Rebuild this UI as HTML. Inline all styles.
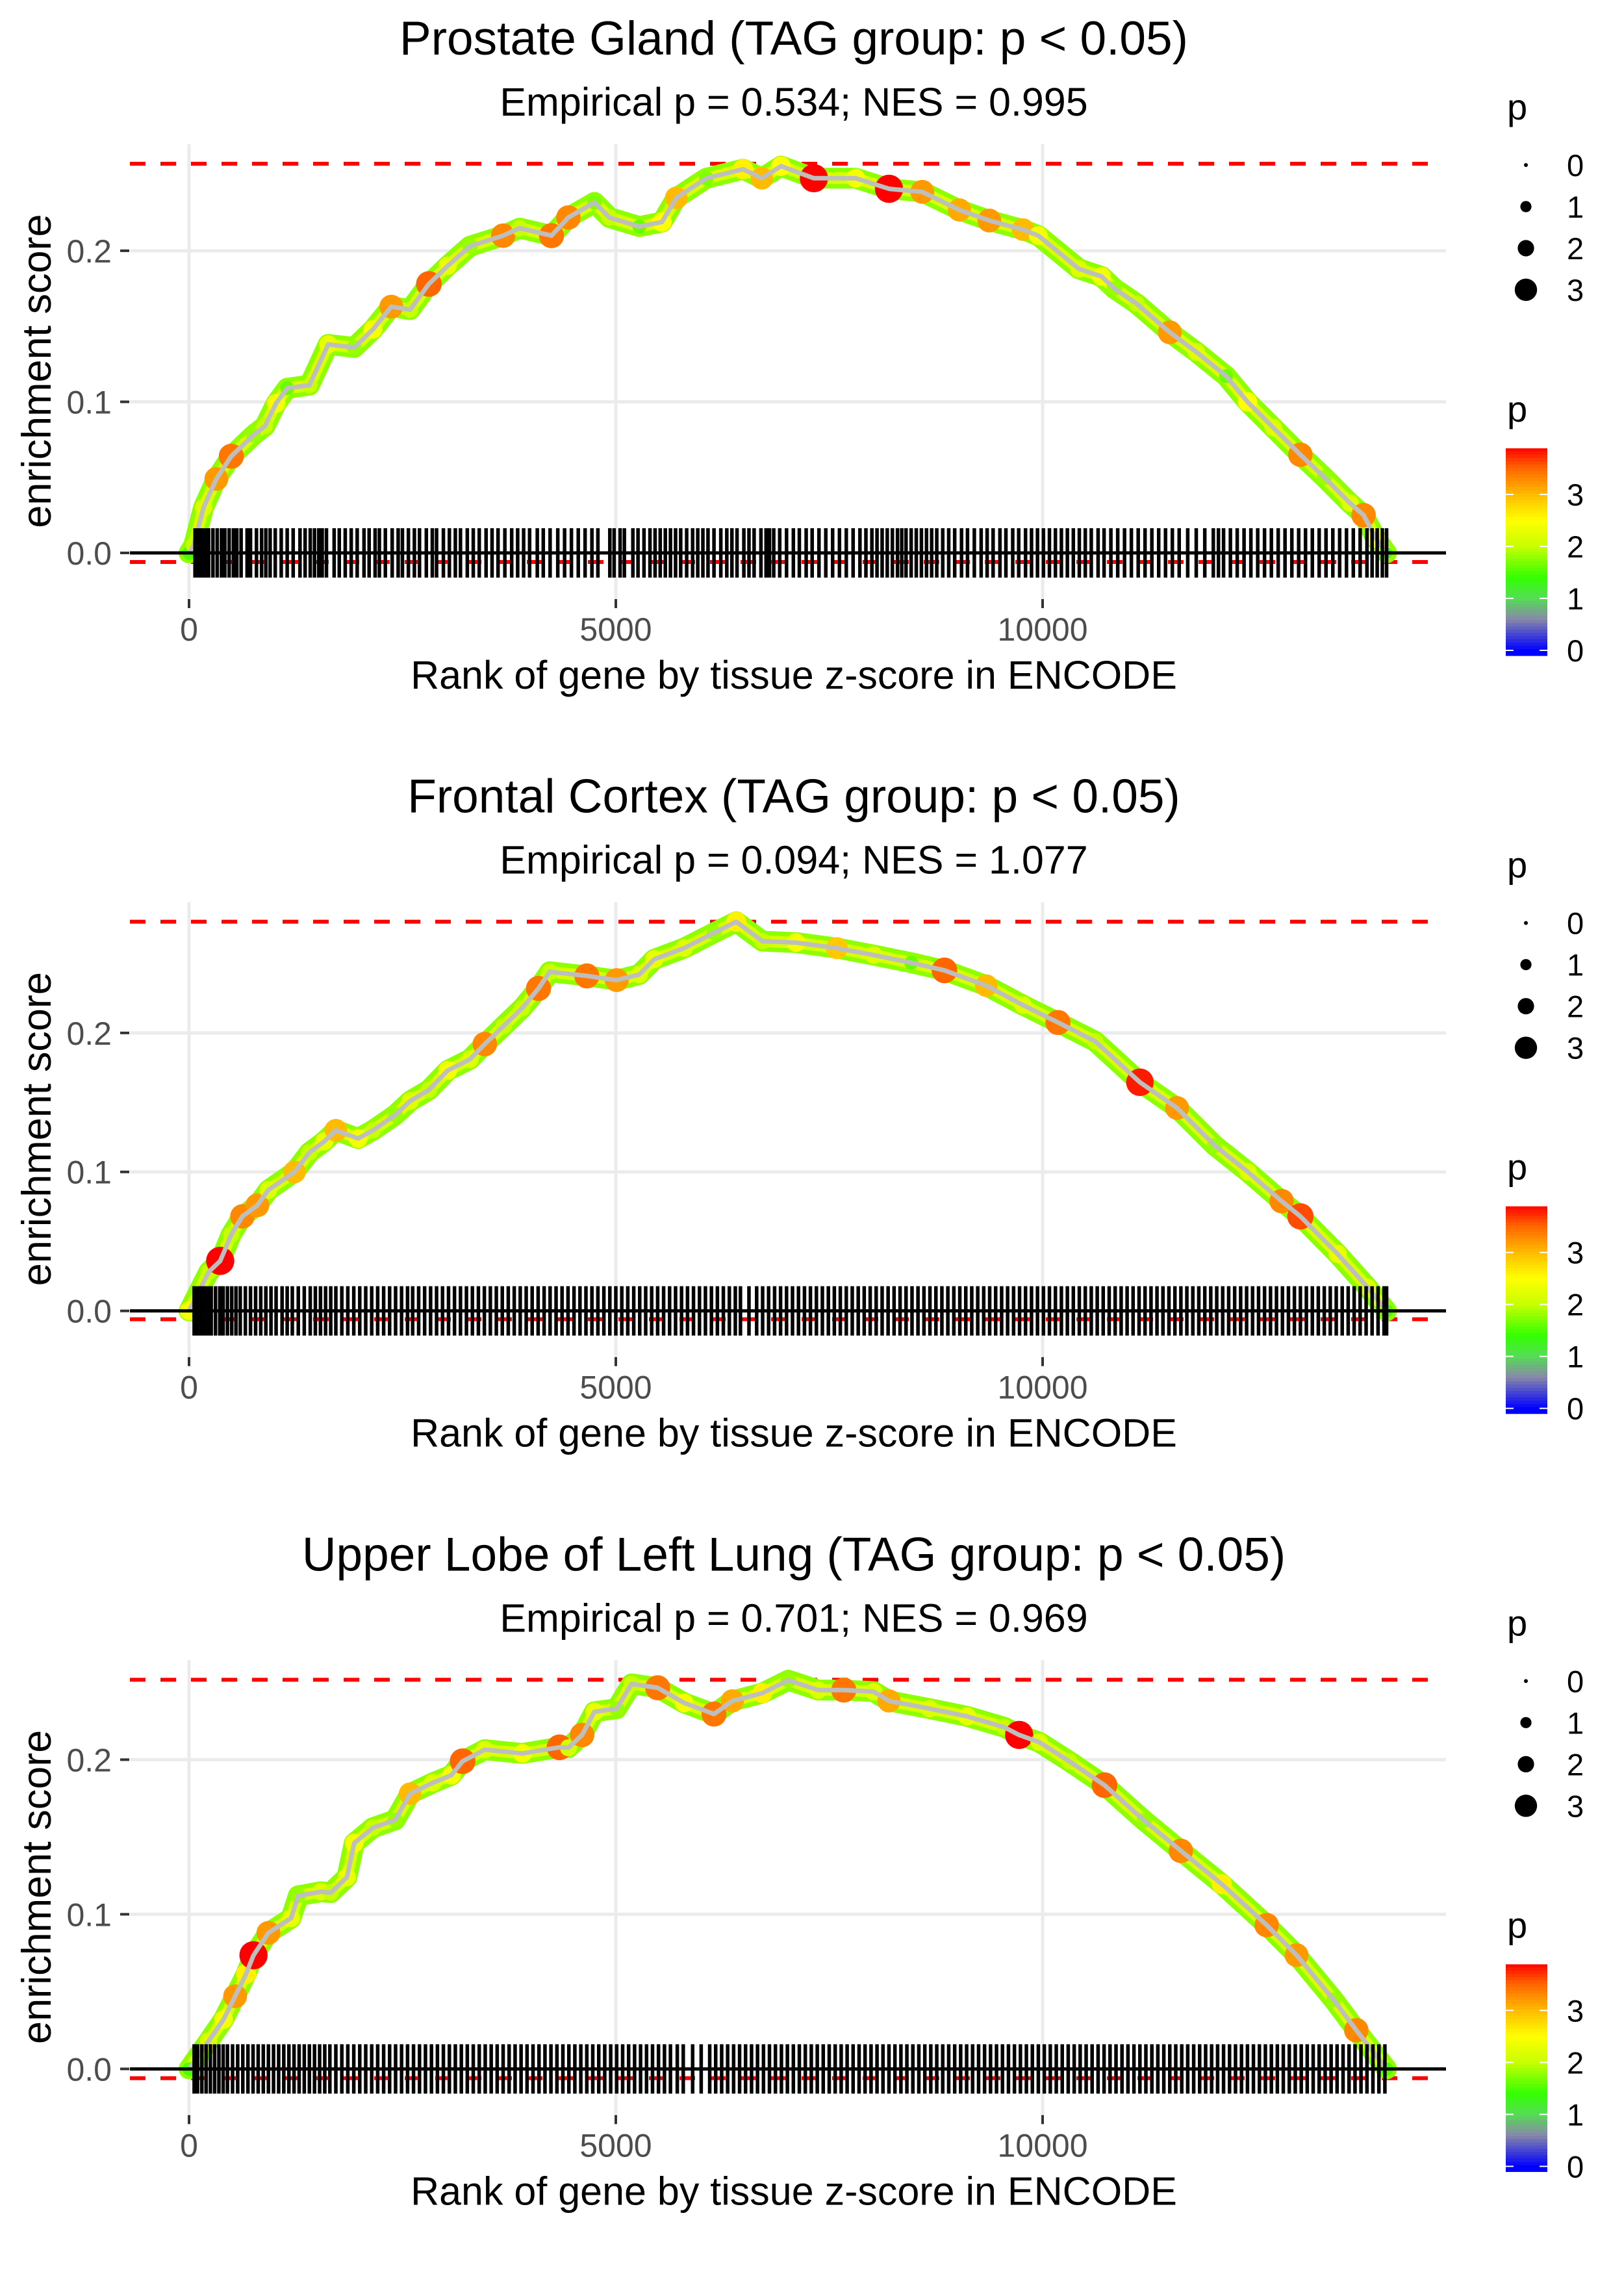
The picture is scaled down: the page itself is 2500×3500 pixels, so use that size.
<!DOCTYPE html>
<html><head><meta charset="utf-8"><style>
html,body{margin:0;padding:0;background:#fff;}
svg{display:block;font-family:"Liberation Sans",sans-serif;}
</style></head><body>
<svg id="chart" width="2500" height="3500" viewBox="0 0 2500 3500" xmlns="http://www.w3.org/2000/svg">
<rect x="0" y="0" width="2500" height="3500" fill="#fff"/>
</svg>
<script>
// ---- data ----
const titles = ["Prostate Gland (TAG group: p < 0.05)", "Frontal Cortex (TAG group: p < 0.05)", "Upper Lobe of Left Lung (TAG group: p < 0.05)"];
const subtitles = ["Empirical p = 0.534; NES = 0.995", "Empirical p = 0.094; NES = 1.077", "Empirical p = 0.701; NES = 0.969"];
const xTicks = [0, 5000, 10000];
const xTickLabels = ["0", "5000", "10000"];
const yTicks = [0.0, 0.1, 0.2];
const yTickLabels = ["0.0", "0.1", "0.2"];
const maxES = [0.2576, 0.280, 0.2517];
const minES = [-0.006, -0.006, -0.006];
const sizeLegendValues = [0, 1, 2, 3];
const colorLegendValues = [0, 1, 2, 3];

const p1Ranks = [0,55,170,320,495,755,890,1020,1150,1410,1630,1935,2155,2370,2590,2810,3030,3290,3680,3874,4246,4444,4750,4925,5275,5540,5708,6060,6490,6710,6935,7320,7810,8200,8590,9025,9375,9770,9950,10425,10690,10840,11100,11490,11800,12150,12400,12700,13020,13300,13600,13760,13900,14030];
const p1ES = [0,0.005,0.03,0.049,0.064,0.078,0.084,0.099,0.109,0.111,0.138,0.136,0.148,0.163,0.161,0.178,0.19,0.203,0.21,0.215,0.21,0.222,0.232,0.222,0.216,0.219,0.235,0.248,0.254,0.248,0.256,0.248,0.248,0.241,0.239,0.227,0.22,0.214,0.21,0.188,0.183,0.175,0.165,0.146,0.133,0.117,0.1,0.083,0.065,0.05,0.033,0.025,0.01,0];
const p1P = [1.5,2,2.2,3.2,3.4,1.8,2,2.4,1.6,2,2.3,1.8,2.4,3.2,2,3.5,2.3,1.8,3.3,2,3.4,3.3,1.7,2,1.6,2.5,3,1.7,2.6,3,2.5,3.9,2.4,3.9,3.2,3.1,3.2,3.0,2.4,2.2,2.4,1.8,2,3.2,2.2,1.6,2.5,2.2,3.3,1.8,2.2,3.3,2.5,1.2];

const p2Ranks = [0,230,365,495,625,800,930,1235,1410,1585,1720,1980,2155,2415,2590,2810,3030,3290,3465,3685,3905,4094,4225,4660,5010,5275,5450,5800,6150,6410,6715,7110,7590,8020,8460,8850,9340,9770,10180,10615,11140,11575,12015,12405,12800,13020,13455,13805,14030];
const p2ES = [0,0.028,0.036,0.055,0.068,0.076,0.087,0.1,0.114,0.122,0.13,0.124,0.13,0.141,0.151,0.159,0.173,0.181,0.192,0.205,0.218,0.232,0.244,0.241,0.238,0.242,0.253,0.261,0.272,0.28,0.266,0.265,0.261,0.256,0.2505,0.245,0.234,0.22,0.2075,0.194,0.1645,0.146,0.119,0.1,0.079,0.068,0.041,0.017,0];
const p2P = [2.4,2,3.9,2,3.3,3.2,2.2,3,2,2.3,3,2.4,2,1.8,2.2,2,2.4,2.2,3.3,2,2,3.4,2,3.4,3.2,2.2,2.3,2.2,1.8,2.6,2,2.4,2.9,2.2,1.6,3.5,3,2.2,3.4,2,3.8,3.2,1.8,2.2,3.3,3.6,2.3,2.2,1.5];

const p3Ranks = [0,230,405,540,670,755,930,1195,1280,1545,1660,1850,1935,2155,2415,2590,2855,3075,3205,3465,3905,4340,4444,4605,4750,5010,5185,5490,5800,6150,6365,6715,7020,7370,7670,8020,8200,8675,9115,9550,9725,9960,10310,10725,11190,11620,12100,12625,12975,13410,13675,14030];
const p3ES = [0,0.018,0.032,0.047,0.0615,0.0735,0.088,0.0975,0.112,0.1146,0.114,0.124,0.146,0.156,0.161,0.178,0.185,0.19,0.199,0.2065,0.204,0.208,0.2077,0.216,0.231,0.233,0.249,0.2465,0.2367,0.2295,0.238,0.243,0.2514,0.245,0.245,0.244,0.238,0.233,0.228,0.221,0.216,0.2113,0.199,0.1835,0.1606,0.141,0.1195,0.093,0.0736,0.0446,0.025,0];
const p3P = [1.5,2.2,2.4,3.2,2.6,3.9,3.2,2.3,1.8,2.2,2,2.3,2.4,2,1.8,3,2.2,2.4,3.5,2.2,2.4,3.5,2.1,3.3,2.3,1.8,2,3.4,2.4,3.4,3.1,2.6,1.8,2.2,3.4,2.2,3.1,2.2,2.3,2,3.9,2.2,2,3.5,1.8,3.3,2.6,3.3,3.2,1.8,3.3,1.5];

const p1Rug = [70,110,150,190,230,280,330,380,420,470,520,560,610,680,720,790,850,900,950,1010,1080,1150,1220,1300,1360,1420,1470,1520,1560,1610,1700,1760,1830,1900,1970,2050,2110,2180,2230,2300,2380,2450,2500,2570,2640,2700,2780,2850,2900,2980,3050,3120,3180,3260,3330,3400,3480,3550,3620,3700,3780,3850,3920,3990,4080,4150,4230,4320,4400,4480,4560,4640,4720,4790,4930,4980,5050,5100,5200,5260,5330,5400,5460,5520,5580,5640,5700,5760,5830,5900,5960,6020,6080,6150,6230,6300,6360,6420,6500,6560,6620,6700,6760,6800,6850,6920,7000,7080,7150,7230,7300,7380,7460,7540,7620,7700,7780,7860,7930,8000,8060,8120,8180,8240,8300,8350,8400,8460,8520,8580,8640,8700,8760,8830,8900,8970,9050,9120,9200,9280,9350,9420,9500,9570,9650,9720,9800,9870,9940,10010,10080,10150,10220,10290,10360,10430,10500,10570,10650,10720,10800,10880,10960,11040,11120,11200,11280,11360,11440,11520,11600,11700,11800,11900,12000,12060,12120,12200,12280,12360,12440,12520,12600,12680,12760,12840,12920,13000,13080,13160,13240,13320,13400,13480,13560,13640,13720,13800,13860,13920,13980,14030];
const p2Rug = [60,100,140,180,220,260,310,360,400,450,500,550,600,660,720,780,840,900,960,1020,1090,1150,1210,1280,1350,1420,1480,1540,1600,1660,1720,1790,1860,1930,2000,2070,2140,2210,2280,2350,2420,2490,2560,2620,2690,2760,2830,2900,2970,3040,3110,3180,3250,3320,3390,3460,3530,3600,3670,3740,3810,3880,3950,4020,4090,4160,4230,4300,4370,4440,4510,4580,4650,4720,4790,4860,4930,5000,5070,5140,5210,5280,5350,5420,5490,5560,5630,5700,5770,5840,5910,5980,6050,6120,6190,6260,6330,6400,6460,6560,6650,6720,6790,6860,6930,7000,7070,7140,7210,7280,7350,7420,7490,7560,7630,7700,7770,7840,7910,7980,8050,8120,8190,8260,8330,8400,8470,8540,8610,8680,8750,8820,8890,8960,9030,9100,9170,9240,9310,9380,9450,9520,9590,9660,9730,9800,9870,9940,10010,10080,10150,10220,10290,10360,10430,10500,10570,10640,10710,10780,10850,10920,10990,11060,11130,11200,11270,11340,11410,11480,11550,11620,11690,11760,11830,11900,11970,12040,12110,12180,12250,12320,12390,12460,12530,12600,12670,12740,12810,12880,12950,13020,13090,13160,13230,13300,13370,13440,13510,13580,13650,13720,13790,13860,13930,14000,14030];
const p3Rug = [60,100,150,200,250,300,350,400,450,510,570,630,690,750,810,870,930,990,1050,1110,1170,1230,1290,1350,1410,1470,1530,1590,1650,1720,1790,1860,1930,2000,2070,2140,2210,2280,2350,2420,2490,2560,2630,2700,2770,2840,2910,2980,3050,3120,3190,3260,3330,3400,3470,3540,3610,3680,3750,3820,3890,3960,4030,4100,4170,4240,4310,4380,4450,4520,4590,4660,4730,4800,4870,4940,5010,5080,5150,5220,5290,5360,5430,5500,5570,5640,5720,5790,5900,6000,6100,6170,6240,6310,6380,6450,6520,6590,6660,6730,6800,6870,6940,7010,7080,7150,7220,7290,7360,7430,7500,7570,7640,7710,7780,7850,7920,7990,8060,8130,8200,8270,8340,8410,8480,8550,8620,8690,8760,8830,8900,8970,9040,9110,9180,9250,9320,9390,9460,9530,9600,9670,9740,9810,9880,9950,10020,10090,10160,10230,10300,10370,10440,10510,10580,10650,10720,10790,10860,10930,11000,11070,11140,11210,11280,11350,11420,11490,11560,11630,11700,11770,11840,11910,11980,12050,12120,12190,12260,12330,12400,12470,12540,12610,12680,12750,12820,12890,12960,13030,13100,13170,13240,13310,13380,13450,13520,13590,13660,13730,13800,13870,13940,14010];

const panelRanks = [p1Ranks, p2Ranks, p3Ranks];
const panelES = [p1ES, p2ES, p3ES];
const panelP = [p1P, p2P, p3P];
const panelRug = [p1Rug, p2Rug, p3Rug];

// ---- layout ----
const NS = "http://www.w3.org/2000/svg";
const svg = document.getElementById("chart");
const PANEL_H = 3500 / 3;
const PL = 200, PR = 2226, PT = 222, PB = 921, Y0 = 851, YTOP = 252;
const X0 = 291, XK = 0.1314;
function xScale(r) { return X0 + r * XK; }
function mk(tag, attrs, parent) {
  const e = document.createElementNS(NS, tag);
  for (const k in attrs) e.setAttribute(k, attrs[k]);
  (parent || svg).appendChild(e);
  return e;
}
function hex(c){return [parseInt(c.slice(1,3),16),parseInt(c.slice(3,5),16),parseInt(c.slice(5,7),16)];}
const cstops = [[0,'#0000ff'],[0.6,'#8888a8'],[1.0,'#55dd55'],[1.4,'#33ff00'],[2.0,'#c8ff00'],[2.5,'#ffff00'],[3.0,'#ffbb00'],[3.5,'#ff6600'],[3.9,'#ff0000']];
function pColor(p){
  if (p<=cstops[0][0]) return cstops[0][1];
  for (let i=1;i<cstops.length;i++){
    if (p<=cstops[i][0]){
      const t=(p-cstops[i-1][0])/(cstops[i][0]-cstops[i-1][0]);
      const a=hex(cstops[i-1][1]), b=hex(cstops[i][1]);
      return 'rgb('+a.map((v,j)=>Math.round(v+(b[j]-v)*t)).join(',')+')';
    }
  }
  return cstops[cstops.length-1][1];
}
function pRadius(p){ return 3 + p * 4.8; }

for (let k = 0; k < 3; k++) {
  const oy = k * PANEL_H;
  const g = mk("g", {transform: "translate(0," + oy.toFixed(2) + ")"});
  
  
  const yK = (Y0 - YTOP) / maxES[k];
  const yScale = v => Y0 - v * yK;

  const t = mk("text", {x: 1222, y: 84, "font-size": 73, "text-anchor": "middle", fill: "#000"}, g);
  t.textContent = titles[k];
  
  
  const st = mk("text", {x: 1222, y: 178, "font-size": 61, "text-anchor": "middle", fill: "#000"}, g);
  st.textContent = subtitles[k];
  
  

  // grid
  yTicks.forEach((v, i) => {
    const gl = mk("line", {x1: PL, x2: PR, y1: yScale(v), y2: yScale(v), stroke: "#ebebeb", "stroke-width": 5}, g);
    
    
    const tk = mk("line", {x1: 185, x2: 199, y1: yScale(v), y2: yScale(v), stroke: "#333", "stroke-width": 4}, g);
    
    
    const tl = mk("text", {x: 172, y: yScale(v) + 18, "font-size": 50, "text-anchor": "end", fill: "#4d4d4d"}, g);
    tl.textContent = yTickLabels[i];
    
    
  });
  xTicks.forEach((v, i) => {
    const gl = mk("line", {x1: xScale(v), x2: xScale(v), y1: PT, y2: PB, stroke: "#ebebeb", "stroke-width": 5}, g);
    
    
    const tk = mk("line", {x1: xScale(v), x2: xScale(v), y1: 922, y2: 936, stroke: "#333", "stroke-width": 4}, g);
    
    
    const tl = mk("text", {x: xScale(v), y: 986, "font-size": 50, "text-anchor": "middle", fill: "#4d4d4d"}, g);
    tl.textContent = xTickLabels[i];
    
    
  });

  const ya = mk("text", {x: 0, y: 0, "font-size": 63, "text-anchor": "middle", fill: "#000", transform: "translate(78,571) rotate(-90)"}, g);
  ya.textContent = "enrichment score";
  
  
  const xa = mk("text", {x: 1222, y: 1060, "font-size": 61, "text-anchor": "middle", fill: "#000"}, g);
  xa.textContent = "Rank of gene by tissue z-score in ENCODE";
  
  

  // red dashed reference lines
  [maxES[k], minES[k]].forEach((v, i) => {
    const rl = mk("line", {x1: PL, x2: PR - 10, y1: yScale(v), y2: yScale(v), stroke: "#ff0000", "stroke-width": 6, "stroke-dasharray": "24 23"}, g);
    
    
  });

  const R = panelRanks[k], E = panelES[k], P = panelP[k];
  const pts = R.map((r, i) => xScale(r).toFixed(1) + "," + yScale(E[i]).toFixed(1)).join(" ");
  const band = mk("polyline", {points: pts, fill: "none", stroke: "#8cff00", "stroke-width": 32, "stroke-linejoin": "round", "stroke-linecap": "round"}, g);
  
  
  const band2 = mk("polyline", {points: pts, fill: "none", stroke: "#d8ff00", "stroke-width": 18, "stroke-linejoin": "round", "stroke-linecap": "round"}, g);
  
  
  R.forEach((r, i) => {
    const c = mk("circle", {cx: xScale(r), cy: yScale(E[i]), r: pRadius(P[i]), fill: pColor(P[i])}, g);
    
    
  });
  const line = mk("polyline", {points: pts, fill: "none", stroke: "#bebebe", "stroke-width": 7, "stroke-linejoin": "round"}, g);
  
  

  // rug
  const rugG = mk("g", {}, g);
  
  
  panelRug[k].forEach(r => {
    const rl = mk("line", {x1: xScale(r), x2: xScale(r), y1: Y0 - 38, y2: Y0 + 38, stroke: "#000", "stroke-width": 5.5}, rugG);
    
    
  });
  const zl = mk("line", {x1: PL, x2: PR, y1: Y0, y2: Y0, stroke: "#000", "stroke-width": 5}, g);
  
  

  // size legend
  const sl = mk("g", {}, g);
  
  
  const sT = mk("text", {x: 2320, y: 184, "font-size": 56, fill: "#000"}, sl);
  sT.textContent = "p";
  
  
  sizeLegendValues.forEach((v, i) => {
    const cy = 254 + i * 64;
    const d = mk("circle", {cx: 2349, cy: cy, r: [3, 8.6, 12.6, 17.2][i], fill: "#000"}, sl);
    
    
    const lt = mk("text", {x: 2412, y: cy + 17, "font-size": 47, fill: "#000"}, sl);
    lt.textContent = String(v);
    
    
  });

  // color legend
  const cl = mk("g", {}, g);
  
  
  const cT = mk("text", {x: 2320, y: 649, "font-size": 56, fill: "#000"}, cl);
  cT.textContent = "p";
  
  
  const barTop = 690, barBot = 1009, cb0 = 1001, cbK = 80;
  const steps = 64;
  for (let s = 0; s < steps; s++) {
    const y1 = barTop + (barBot - barTop) * s / steps;
    const yc = y1 + (barBot - barTop) / steps / 2;
    const val = (cb0 - yc) / cbK;
    const r = mk("rect", {x: 2318, y: y1.toFixed(2), width: 64, height: ((barBot - barTop) / steps + 0.6).toFixed(2), fill: pColor(val)}, cl);
    
    
  }
  colorLegendValues.forEach(v => {
    const y = cb0 - v * cbK;
    [[2318, 2330], [2370, 2382]].forEach(xx => {
      const tk = mk("line", {x1: xx[0], x2: xx[1], y1: y, y2: y, stroke: "#fff", "stroke-width": 2}, cl);
      
      
    });
    const lt = mk("text", {x: 2412, y: y + 17, "font-size": 47, fill: "#000"}, cl);
    lt.textContent = String(v);
    
    
  });
}
</script>
</body></html>
